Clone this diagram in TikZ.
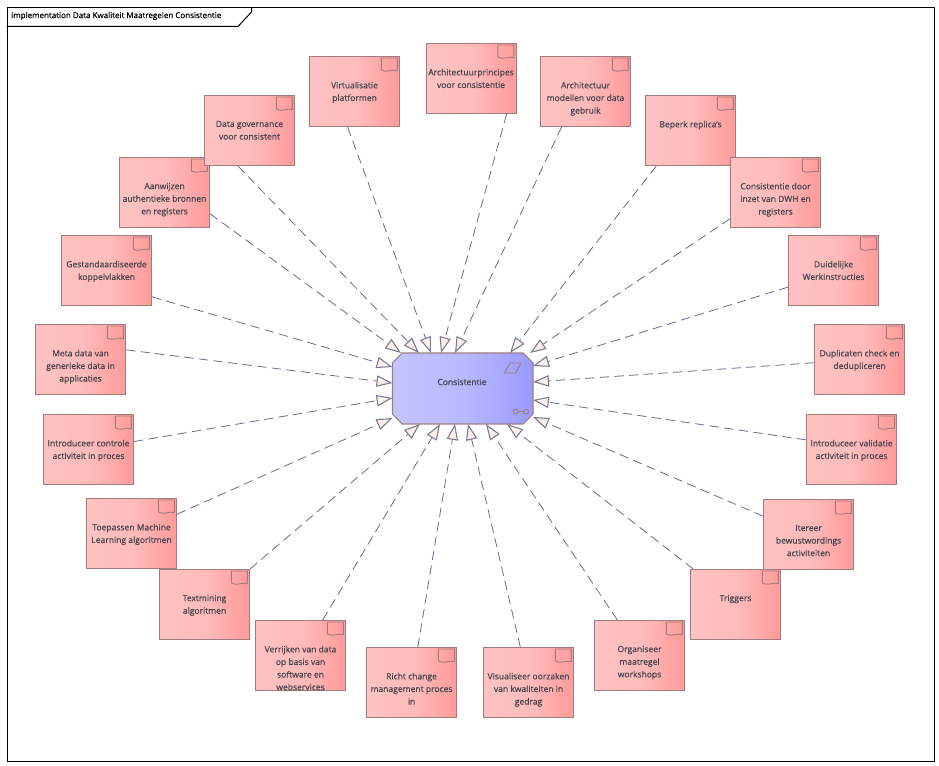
\documentclass[tikz,border=0pt]{standalone}
\usepackage{fontspec}
\setmainfont{Open Sans}[BoldFont={Open Sans},BoldFeatures={FakeBold=0.6}]
\usetikzlibrary{arrows.meta, positioning}
\definecolor{notelight}{HTML}{FFC2C2}
\definecolor{notedark}{HTML}{FF9A9A}
\definecolor{notemid}{HTML}{FFBBBB}
\definecolor{noteline}{HTML}{A07C7C}
\definecolor{goallight}{HTML}{C4C4FF}
\definecolor{goalmid}{HTML}{B8B8FF}
\definecolor{goaldark}{HTML}{9A9AFF}
\definecolor{goalline}{HTML}{9C8080}
\definecolor{linkline}{HTML}{6A6A8C}
\definecolor{tipline}{HTML}{777A90}
\definecolor{tipfill}{HTML}{FBF1EA}
\definecolor{labeltext}{HTML}{45454F}
\pgfdeclarehorizontalshading{noteshade}{100bp}{color(0bp)=(notelight); color(25bp)=(notelight); color(51bp)=(notemid); color(75bp)=(notedark); color(100bp)=(notedark)}
\pgfdeclarehorizontalshading{goalshade}{100bp}{color(0bp)=(goallight); color(25bp)=(goallight); color(51bp)=(goalmid); color(75bp)=(goaldark); color(100bp)=(goaldark)}
\tikzset{
  notebox/.style={draw=noteline, line width=0.8pt, shading=noteshade, minimum width=67.5pt, minimum height=52.5pt, inner sep=0pt, anchor=north west},
  notetext/.style={text=labeltext, font=\fontsize{6.4}{9.45}\selectfont\bfseries, align=center, inner sep=0pt, anchor=north},
  influence/.style={draw=linkline, line width=0.6pt, dash pattern=on 7pt off 4pt, -{Triangle[length=12pt,width=8.5pt,fill=tipfill,color=tipline,line width=0.8pt]}},
  icon/.style={draw=goalline, line width=0.7pt},
}
\begin{document}
\begin{tikzpicture}[x=0.75pt,y=-0.75pt]
    \useasboundingbox (0,0) rectangle (939,766);
    \node (frame) [draw=black, line width=0.75pt, minimum width=695.25pt, minimum height=565.5pt, inner sep=0pt, anchor=north west] at (6.5,7) {};
    \draw[black, line width=0.75pt] (6.5,26.5) -- (238,26.5) -- (251.5,12) -- (251.5,7);
    \node (title) [anchor=west, inner sep=0pt, text=black, font=\fontsize{6}{9}\selectfont\bfseries] at (11,16) {implementation Data Kwaliteit Maatregelen Consistentie};
    \draw[draw=goalline, line width=0.8pt, shading=goalshade] (402,353) -- (523,353) -- (533,363) -- (533,414) -- (523,424) -- (402,424) -- (392.5,414) -- (392.5,363) -- cycle;
    \node (cons) [text=labeltext, font=\fontsize{6.4}{9.45}\selectfont\bfseries, inner sep=0pt] at (462,382) {Consistentie};
    \draw[icon] (504.5,373) -- (510,363) -- (521,363) -- (515.5,373) -- cycle;
    \draw[icon] (515.7,411.7) circle (2.5) (526,411.7) circle (2.5) (518.2,411.7) -- (523.5,411.7);
    % boxes, each with its flag and its text
    \foreach \n/\x/\y/\a/\tipx/\tipy/\t in {
      aanwijzen/119/157/-25/401/353/{Aanwijzen\\authentieke bronnen\\en registers},
      governance/204/95/-108.6/419/353/{Data governance\\voor consistent},
      virtualisatie/309/56/-101/431/353/{Virtualisatie\\platformen},
      principes/425.5/43/-45.4/441/353/{Architectuurprincipes\\voor consistentie},
      modellen/540/56/-124.8/455/353/{Architectuur\\modellen voor data\\gebruik},
      replicas/645/95/-134/510/353/{Beperk replica's},
      dwh/730/157/-150/530/353/{Consistentie door\\inzet van DWH en\\registers},
      werkinstructies/788/235/-160.4/533/366/{Duidelijke\\Werkinstructies},
      duplicaten/814/324/-176/533/382/{Duplicaten check en\\dedupliceren},
      validatie/806/414/168.7/533/400/{Introduceer validatie\\activiteit in proces},
      itereer/763/499/158/533/417/{Itereer\\bewustwordings\\activiteiten},
      triggers/690/569/140/507/424/{Triggers},
      workshops/594/620/122/486/424/{Organiseer\\maatregel\\workshops},
      oorzaken/483/647/103/468/424/{Visualiseer oorzaken\\van kwaliteiten in\\gedrag},
      change/366/647/80/455/424/{Richt change\\management proces\\in},
      verrijken/255/620/58/440/424/{Verrijken van data\\op basis van\\software en\\webservices},
      learning/86/498/23.5/392.5/418/{Toepassen Machine\\Learning algoritmen},
      textmining/159/569/38.5/420/424/{Textmining\\algoritmen},
      controle/43/414/10/392.5/398/{Introduceer controle\\activiteit in proces},
      metadata/35/324/12/392.5/383/{Meta data van\\generieke data in\\applicaties},
      koppelvlakken/61/235/-30.4/392.5/367/{Gestandaardiseerde\\koppelvlakken}}
    {
      \node (\n) [notebox] at (\x,\y) {};
      \draw[draw=noteline, line width=0.7pt] ([xshift=-14pt,yshift=-1.5pt]\n.north east) -- ([xshift=-2pt,yshift=-1.5pt]\n.north east) -- ([xshift=-2pt,yshift=-11pt]\n.north east) .. controls ([xshift=-6pt,yshift=-9.5pt]\n.north east) and ([xshift=-9pt,yshift=-13pt]\n.north east) .. ([xshift=-14pt,yshift=-10.5pt]\n.north east) -- cycle;
      \node (text\n) [notetext, below=19.2pt of \n.north] {\t};
      \coordinate (tip\n) at (\tipx,\tipy);
      \draw[influence] (\n.\a) -- (tip\n);
    }
\end{tikzpicture}
\end{document}
